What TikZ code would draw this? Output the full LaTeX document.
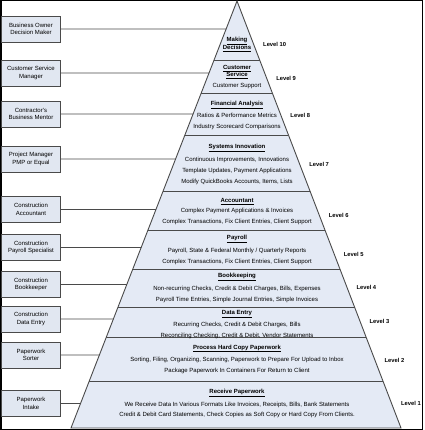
\documentclass[tikz,border=0pt]{standalone}
\usepackage{fontspec}
\setmainfont{Liberation Sans}
\usetikzlibrary{calc}
\definecolor{bandfill}{HTML}{E4EAF5}
\definecolor{boxfill}{HTML}{E1E7F1}
\definecolor{edge}{HTML}{4A4A4A}
\newcommand{\ttl}[1]{\underline{\textbf{#1}}}

\begin{document}
\begin{tikzpicture}[x=1pt,y=-1pt]
\tikzstyle{every node}+=[inner sep=0pt]
\tikzstyle{role}=[draw=edge, fill=boxfill, line width=0.8pt, minimum width=59pt, minimum height=26pt, align=center, font=\fontsize{6}{7.3}\selectfont]
\tikzstyle{band}=[align=center, font=\fontsize{6}{7}\selectfont]
\tikzstyle{lvl}=[anchor=west, font=\fontsize{5.8}{7}\selectfont\bfseries]
\tikzstyle{link}=[draw=edge, line width=0.8pt]
\tikzstyle{divider}=[draw=edge, line width=0.9pt]
\useasboundingbox (0,0) rectangle (424,430);
\draw [black, line width=1.5pt] (0.75,0.75) rectangle (422.5,429.25);
\coordinate (apex) at (237,1);
\coordinate (bl) at (71,428);
\coordinate (br) at (401,428);
\fill [bandfill] (apex) -- (bl) -- (br) -- cycle;
\foreach \y in {60,93,135,191,230.5,269,307.5,337,381.5}
  \draw [divider] ($(apex)!{(\y-1)/427}!(bl)$) -- ($(apex)!{(\y-1)/427}!(br)$);
\draw [edge, line width=0.9pt] (apex) -- (bl) -- (br) -- cycle;
\node [band] (b10) at (237,44.2) {\ttl{Making}\\\ttl{Decisions}};
\node [band] (b9) at (237,77) {\ttl{Customer}\\\ttl{Service}\\[4pt]Customer Support};
\node [band] (b8) at (237,115.5) {\ttl{Financial Analysis}\\[4pt]Ratios \& Performance Metrics\\[4pt]Industry Scorecard Comparisons};
\node [band] (b7) at (237,164.5) {\ttl{Systems Innovation}\\[4pt]Continuous Improvements, Innovations\\[4pt]Template Updates, Payment Applications\\[4pt]Modify QuickBooks Accounts, Items, Lists};
\node [band] (b6) at (237,211.5) {\ttl{Accountant}\\[3.5pt]Complex Payment Applications \& Invoices\\[3.5pt]Complex Transactions, Fix Client Entries, Client Support};
\node [band] (b5) at (237,250) {\ttl{Payroll}\\[4pt]Payroll, State \& Federal Monthly / Quarterly Reports\\[4pt]Complex Transactions, Fix Client Entries, Client Support};
\node [band] (b4) at (237,288) {\ttl{Bookkeeping}\\[4pt]Non-recurring Checks, Credit \& Debit Charges, Bills, Expenses\\[4pt]Payroll Time Entries, Simple Journal Entries, Simple Invoices};
\node [band] (b3) at (237,324.5) {\ttl{Data Entry}\\[3.5pt]Recurring Checks, Credit \& Debit Charges, Bills\\[3.5pt]Reconciling Checking, Credit \& Debit, Vendor Statements};
\node [band] (b2) at (237,359) {\ttl{Process Hard Copy Paperwork}\\[4pt]Sorting, Filing, Organizing, Scanning, Paperwork to Prepare For Upload to Inbox\\[3.5pt]Package Paperwork In Containers For Return to Client};
\node [band] (b1) at (237,403.5) {\ttl{Receive Paperwork}\\[4pt]We Receive Data In Various Formats Like Invoices, Receipts, Bills, Bank Statements\\[3.5pt]Credit \& Debit Card Statements, Check Copies as Soft Copy or Hard Copy From Clients.};
\foreach \y/\n in {44/10,78/9,115/8,164/7,215/6,254/5,287/4,321/3,360/2,403/1}
  \node [lvl, xshift=9.5pt] (lv\n) at ($(apex)!{(\y-1)/427}!(br)$) {Level \n};
\node [role] (r10) at (31,29) {Business Owner\\Decision Maker};
\node [role] (r9) at (31,73) {Customer Service\\Manager};
\node [role] (r8) at (31,114) {Contractor's\\Business Mentor};
\node [role] (r7) at (31,159) {Project Manager\\PMP or Equal};
\node [role] (r6) at (31,209.5) {Construction\\Accountant};
\node [role] (r5) at (31,247.5) {Construction\\Payroll Specialist};
\node [role] (r4) at (31,284.5) {Construction\\Bookkeeper};
\node [role] (r3) at (31,319) {Construction\\Data Entry};
\node [role] (r2) at (31,355) {Paperwork\\Sorter};
\node [role] (r1) at (31,403.5) {Paperwork\\Intake};
\foreach \n in {1,...,10}
  \draw [link] (r\n.east) -- (intersection of apex--bl and r\n.east--r\n.west);
\end{tikzpicture}
\end{document}
